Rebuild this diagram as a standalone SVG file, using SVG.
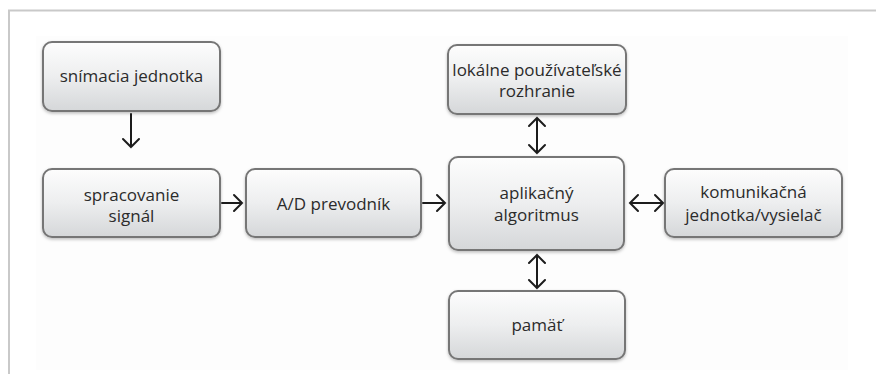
<svg xmlns="http://www.w3.org/2000/svg" width="876" height="374" viewBox="0 0 876 374">
  <defs>
    <linearGradient id="boxFill" x1="0" y1="0" x2="0" y2="1">
      <stop offset="0" stop-color="#fdfdfd"/>
      <stop offset="0.5" stop-color="#edeeef"/>
      <stop offset="1" stop-color="#d5d7d9"/>
    </linearGradient>
    <filter id="shadow" x="-10%" y="-10%" width="120%" height="130%">
      <feDropShadow dx="0" dy="1.5" stdDeviation="1.5" flood-color="#000" flood-opacity="0.25"/>
    </filter>
  </defs>
  <style>
    .frame { stroke: #c9c9c9; stroke-width: 2; fill: none; }
    .box { fill: url(#boxFill); stroke: #767676; stroke-width: 2; filter: url(#shadow); }
    .label { font-family: "Open Sans", "Liberation Sans", sans-serif; font-size: 17px; fill: #2b2b2b; text-anchor: middle; }
    .arrow { stroke: #1c1c1c; stroke-width: 2; fill: none; stroke-linecap: round; stroke-linejoin: miter; }
  </style>

  <rect x="0" y="0" width="876" height="374" fill="#ffffff"/>
  <rect x="36" y="36" width="812" height="334" fill="#fdfdfd"/>
  <path class="frame" d="M9,374 V10.5 H876"/>

  <g id="snimacia-jednotka">
    <rect class="box" x="43" y="42" width="177" height="69" rx="9"/>
    <text class="label" x="131.5" y="82">snímacia jednotka</text>
  </g>

  <g id="spracovanie-signal">
    <rect class="box" x="43" y="169" width="177" height="68" rx="9"/>
    <text class="label" x="131.5" y="201">spracovanie</text>
    <text class="label" x="131.5" y="222">signál</text>
  </g>

  <g id="ad-prevodnik">
    <rect class="box" x="246" y="169" width="175" height="68" rx="9"/>
    <text class="label" x="333.5" y="210">A/D prevodník</text>
  </g>

  <g id="lokalne-rozhranie">
    <rect class="box" x="448" y="45" width="178" height="69" rx="9"/>
    <text class="label" x="537" y="76">lokálne používateľské</text>
    <text class="label" x="537" y="97">rozhranie</text>
  </g>

  <g id="aplikacny-algoritmus">
    <rect class="box" x="449" y="157" width="175" height="93" rx="9"/>
    <text class="label" x="536.5" y="199">aplikačný</text>
    <text class="label" x="536.5" y="221">algoritmus</text>
  </g>

  <g id="komunikacna-jednotka">
    <rect class="box" x="665" y="169" width="177" height="68" rx="9"/>
    <text class="label" x="753.5" y="198">komunikačná</text>
    <text class="label" x="753.5" y="221">jednotka/vysielač</text>
  </g>

  <g id="pamat">
    <rect class="box" x="449" y="291" width="176" height="68" rx="9"/>
    <text class="label" x="537" y="331">pamäť</text>
  </g>

  <g id="connectors">
    <!-- snímacia jednotka -> spracovanie signál -->
    <path class="arrow" d="M131,114 V147 M123,139 L131,147 L139,139"/>
    <!-- spracovanie signál -> A/D prevodník -->
    <path class="arrow" d="M222,203 H242 M234,195 L242,203 L234,211"/>
    <!-- A/D prevodník -> aplikačný algoritmus -->
    <path class="arrow" d="M423,203 H445 M437,195 L445,203 L437,211"/>
    <!-- aplikačný algoritmus <-> komunikačná jednotka -->
    <path class="arrow" d="M630,203 H663 M638,195 L630,203 L638,211 M655,195 L663,203 L655,211"/>
    <!-- lokálne rozhranie <-> aplikačný algoritmus -->
    <path class="arrow" d="M537,118 V153 M529,126 L537,118 L545,126 M529,145 L537,153 L545,145"/>
    <!-- aplikačný algoritmus <-> pamäť -->
    <path class="arrow" d="M537,255 V288 M529,263 L537,255 L545,263 M529,280 L537,288 L545,280"/>
  </g>
</svg>
